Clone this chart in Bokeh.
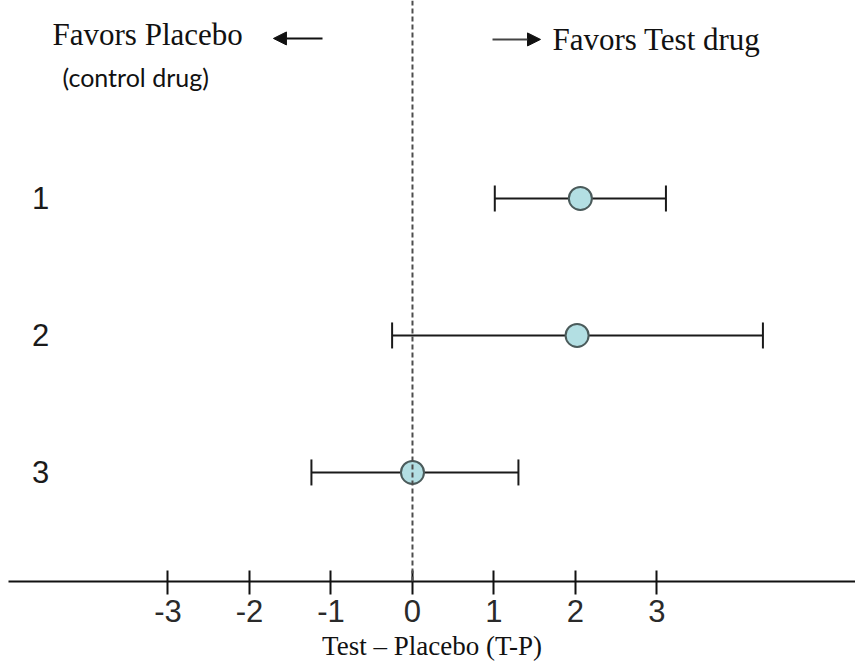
from bokeh.plotting import figure
from bokeh.models import (ColumnDataSource, Range1d, FixedTicker, Whisker, TeeHead,
                          Span, Arrow, NormalHead)
from bokeh.core.properties import value
from bokeh.embed import file_html
from bokeh.resources import INLINE

# Forest plot data: difference Test - Placebo with confidence limits
study = ["1", "2", "3"]
row = [1, 2, 3]
estimate = [2.06, 2.02, 0.0]
lower = [1.01, -0.25, -1.24]
upper = [3.11, 4.30, 1.30]
x_ticks = [-3, -2, -1, 0, 1, 2, 3]
x_tick_labels = ["-3", "-2", "-1", "0", "1", "2", "3"]

source = ColumnDataSource(dict(study=study, row=row, est=estimate, lo=lower, hi=upper))

p = figure(width=855, height=669,
           x_range=Range1d(-4.957, 5.436), y_range=Range1d(3.796, -0.445),
           output_backend="svg", toolbar_location=None,
           y_axis_location=None, x_axis_location="below",
           min_border_left=8, min_border_right=0, min_border_top=0, min_border_bottom=88)
p.outline_line_color = None
p.xgrid.visible = False
p.ygrid.visible = False
p.background_fill_color = "white"
p.border_fill_color = "white"

# x axis
ax = p.xaxis[0]
ax.ticker = FixedTicker(ticks=x_ticks)
ax.major_label_overrides = dict(zip(x_ticks, x_tick_labels))
ax.axis_line_width = 2
ax.axis_line_color = "#111111"
ax.major_tick_line_width = 2
ax.major_tick_line_color = "#111111"
ax.major_tick_in = 11
ax.major_tick_out = 13
ax.minor_tick_line_color = None
ax.major_label_text_font = "Liberation Sans"
ax.major_label_text_font_size = "31px"
ax.major_label_text_color = "#2a2a2a"
ax.major_label_standoff = 5
ax.axis_label = "Test \u2013 Placebo (T-P)"
ax.axis_label_text_font = "Liberation Serif"
ax.axis_label_text_font_style = "normal"
ax.axis_label_text_font_size = "27px"
ax.axis_label_text_color = "#111111"
ax.axis_label_standoff = 6

# line of no difference
p.add_layout(Span(location=0, dimension="height", line_color="#4d4d4d",
                  line_width=2, line_dash="5 3"))

# confidence intervals
p.add_layout(Whisker(source=source, base="row", lower="lo", upper="hi",
                     dimension="width", line_color="#1a1a1a", line_width=2,
                     lower_head=TeeHead(size=26, line_color="#1a1a1a", line_width=2),
                     upper_head=TeeHead(size=26, line_color="#1a1a1a", line_width=2)))

# point estimates
p.scatter("est", "row", source=source, size=23, fill_color="#b3dfe3",
          line_color="#4b5b5b", line_width=2)

# study labels
p.text(x=-4.564, y="row", text="study", source=source, text_font=value("Liberation Sans"),
       text_font_size="31px", text_align="center", text_baseline="middle",
       text_color="#1a1a1a")

# direction captions
p.text(x=[-4.417], y=[-0.197], text=["Favors Placebo"], text_font=value("Liberation Serif"),
       text_font_size="31px", text_align="left", text_baseline="middle", text_color="#111111")
p.text(x=[-4.294], y=[0.117], text=["(control drug)"], text_font=value("Lato"),
       text_font_size="25px", text_align="left", text_baseline="middle", text_color="#111111")
p.text(x=[1.718], y=[-0.161], text=["Favors Test drug"], text_font=value("Liberation Serif"),
       text_font_size="31px", text_align="left", text_baseline="middle", text_color="#111111")

p.add_layout(Arrow(end=NormalHead(size=13, fill_color="#111111", line_color="#111111"),
                   x_start=-1.104, y_start=-0.168, x_end=-1.706, y_end=-0.168,
                   line_width=2, line_color="#111111"))
p.add_layout(Arrow(end=NormalHead(size=13, fill_color="#111111", line_color="#111111"),
                   x_start=0.982, y_start=-0.161, x_end=1.571, y_end=-0.161,
                   line_width=2, line_color="#444444"))

open("out.html", "w").write(file_html(p, INLINE))
